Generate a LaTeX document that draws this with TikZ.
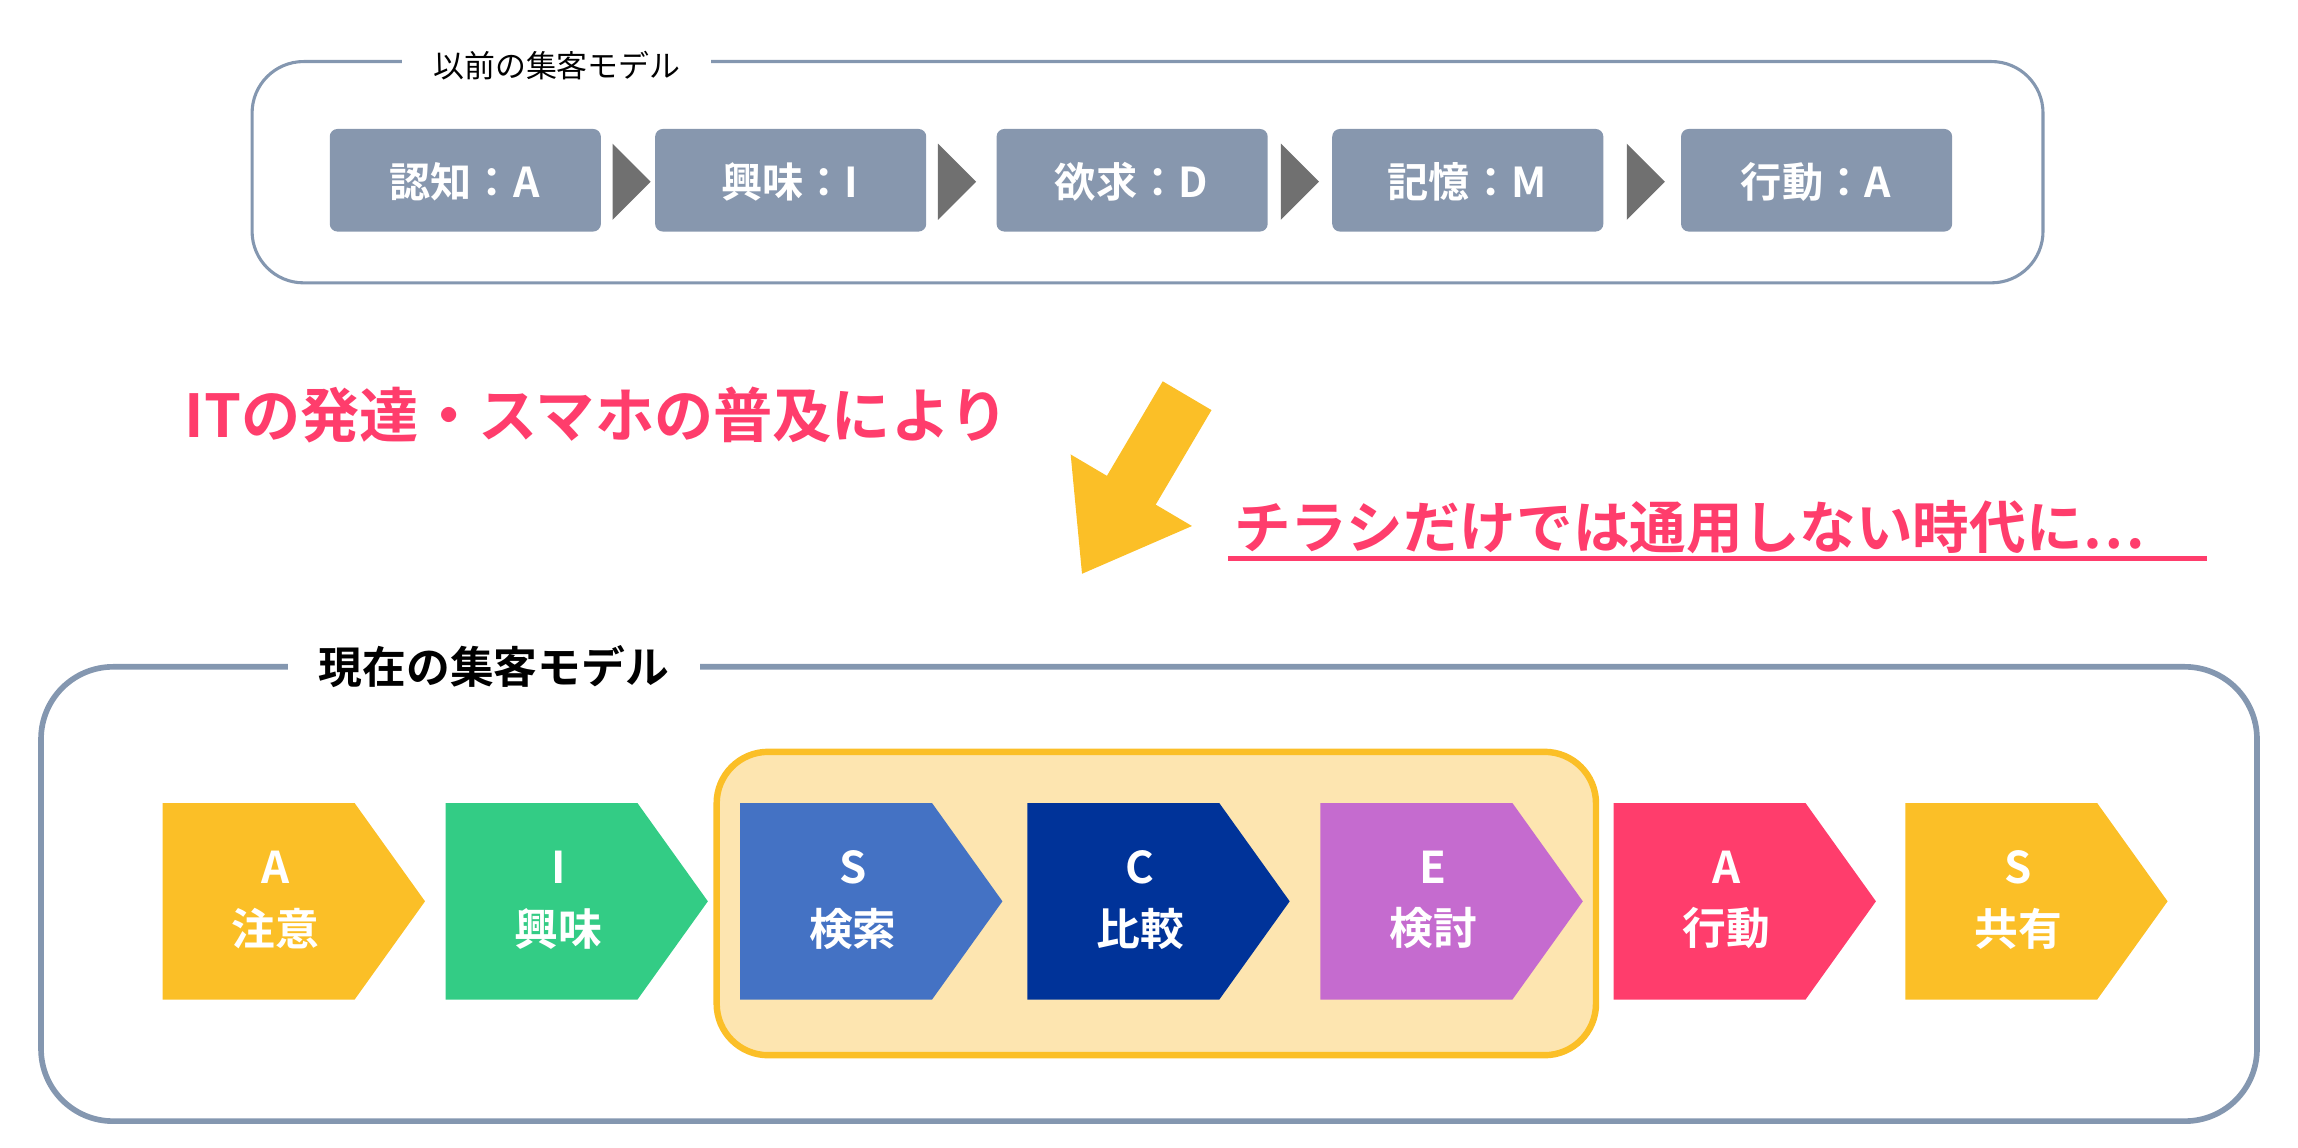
\documentclass[tikz,border=0pt]{standalone}
\usepackage{fontspec}
\setmainfont{Noto Sans CJK JP}
\newfontfamily\jpb{Noto Sans CJK JP Bold}
\usetikzlibrary{arrows.meta}
\definecolor{frame}{HTML}{8497B0}
\definecolor{oldbox}{HTML}{8797AE}
\definecolor{tri}{HTML}{707070}
\definecolor{red1}{HTML}{FF3D6C}
\definecolor{yel}{HTML}{FBBF27}
\definecolor{grn}{HTML}{33CC85}
\definecolor{blu}{HTML}{4472C4}
\definecolor{nav}{HTML}{003399}
\definecolor{pur}{HTML}{C56BCF}
\definecolor{hl}{HTML}{FDE5B0}
\begin{document}
\begin{tikzpicture}[x=0.02cm,y=-0.02cm,
  oldb/.style={fill=oldbox,rounded corners=3pt,text=white,font=\jpb\fontsize{16}{18}\selectfont},
  tri/.style={fill=tri},
  chev/.style={text=white,align=center,font=\jpb\fontsize{17}{24}\selectfont}]
\useasboundingbox (0,0) rectangle (1568,783);
% top frame
\draw[frame,line width=1.2pt,rounded corners=20pt] (172,42) rectangle (1394,193);
\node[fill=white,inner xsep=12pt,font=\fontsize{12}{14}\selectfont] (oldlbl) at (380,45) {以前の集客モデル};
\foreach \x/\t/\n in {225/認知：A/o1,447/興味：I/o2,680/欲求：D/o3,909/記憶：M/o4,1147/行動：A/o5}{
  \fill[oldbox,rounded corners=3pt] (\x,88) rectangle ++(185,70);
  \node[text=white,font=\jpb\fontsize{16}{18}\selectfont] (\n) at (\x+92,124) {\t};
}
\foreach \x in {418,640,874,1110}{
  \fill[tri] (\x,98) -- (\x+26,124) -- (\x,150) -- cycle;
}
% middle
\node[text=red1,anchor=west,font=\jpb\fontsize{23}{26}\selectfont] (t1) at (120,283) {ITの発達・スマホの普及により};
\draw[yel,line width=22pt,-{Triangle[length=38pt,width=52pt]}] (810,270) -- (738,392);
\node[text=red1,anchor=west,font=\jpb\fontsize{22}{26}\selectfont] (t2) at (836,360) {チラシだけでは通用しない時代に…};
\draw[red1,line width=1.8pt] (838,381) -- (1506,381);
% bottom frame
\draw[frame,line width=2.2pt,rounded corners=28pt] (28,455) rectangle (1540,765);
\node[fill=white,inner xsep=12pt,font=\jpb\fontsize{17}{20}\selectfont] (newlbl) at (337,455) {現在の集客モデル};
\draw[yel,fill=hl,line width=2.5pt,rounded corners=20pt] (489,513) rectangle (1089,720);
\foreach \x/\c/\a/\b/\n in {111/yel/A/注意/c1,304/grn/I/興味/c2,505/blu/S/検索/c3,701/nav/C/比較/c4,901/pur/E/検討/c5,1101/red1/A/行動/c6,1300/yel/S/共有/c7}{
  \fill[\c] (\x,548) -- (\x+131,548) -- (\x+179,615) -- (\x+131,682) -- (\x,682) -- cycle;
  \node[chev] (\n) at (\x+77,614) {\a\\\b};
}
\end{tikzpicture}
\end{document}
